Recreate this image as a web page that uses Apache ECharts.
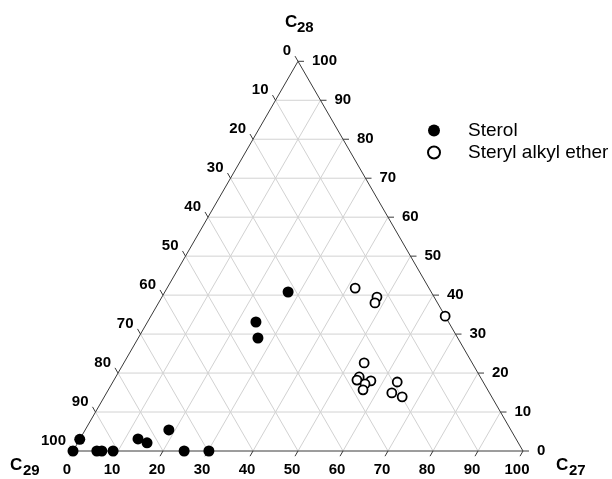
<!DOCTYPE html>
<html><head><meta charset="utf-8">
<script src="https://cdn.jsdelivr.net/npm/echarts@6/dist/echarts.min.js"></script>
<style>html,body{margin:0;padding:0;background:#fff}#c{width:612px;height:479px}</style>
</head><body><div id="c"></div>
<script>
// ---- data (ternary: C27, C28, C29 in %) ----
const tickValues = [0, 10, 20, 30, 40, 50, 60, 70, 80, 90, 100];
const gridLevels = [10, 20, 30, 40, 50, 60, 70, 80, 90];
const seriesNames = ['Sterol', 'Steryl alkyl ether'];

const sterolC27 = [27.4, 24.1, 26.6, 18.6, 12.9, 15.4, 0.0, 0.0, 5.3, 6.4, 8.9, 24.7, 30.2];
const sterolC28 = [40.8, 33.1, 29.0, 5.4, 3.1, 2.1, 3.0, 0.0, 0.0, 0.0, 0.0, 0.0, 0.0];
const sterolC29 = [31.8, 42.8, 44.4, 76.0, 84.0, 82.5, 97.0, 100.0, 94.7, 93.6, 91.1, 75.3, 69.8];

const etherC27 = [41.8, 47.8, 48.1, 65.4, 53.4, 54.1, 54.0, 57.2, 56.3, 56.6, 63.2, 63.4, 66.2];
const etherC28 = [41.8, 39.5, 38.0, 34.6, 22.6, 19.0, 18.2, 18.0, 17.2, 15.7, 17.7, 14.9, 13.9];
const etherC29 = [16.4, 12.7, 13.9, 0.0, 24.0, 26.9, 27.8, 24.8, 26.5, 27.7, 19.1, 21.7, 19.9];

// ---- ternary -> cartesian helper ----
const S3 = Math.sqrt(3) / 2;
function toXY(a, b, c) {
  const s = a + b + c;
  return [100 * (a + b / 2) / s, 100 * b * S3 / s];
}
function pts(A, B, C) { return A.map((a, i) => toXY(a, B[i], C[i])); }

// grid segments
const gridSegs = [];
gridLevels.forEach(v => {
  const h1 = toXY(0, v, 100 - v), h2 = toXY(100 - v, v, 0);      // C28 = v
  const a1 = toXY(v, 0, 100 - v), a2 = toXY(v, 100 - v, 0);      // C27 = v
  const c1 = toXY(0, 100 - v, v), c2 = toXY(100 - v, 0, v);      // C29 = v
  gridSegs.push([...h1, ...h2], [...a1, ...a2], [...c1, ...c2]);
});
const V1 = toXY(0, 0, 100), V2 = toXY(100, 0, 0), V3 = toXY(0, 100, 0);
const edgeSegs = [[...V1, ...V2], [...V2, ...V3], [...V3, ...V1]];

// ticks and labels: [x, y, kind, label] kind 0 bottom(C27), 1 right(C28), 2 left(C29)
const tickItems = [];
tickValues.forEach(v => {
  tickItems.push([...toXY(v, 0, 100 - v), 0, String(v)]);
  tickItems.push([...toXY(100 - v, v, 0), 1, String(v)]);
  tickItems.push([...toXY(0, 100 - v, v), 2, String(v)]);
});

const FONT = '"Liberation Sans", Arial, Helvetica, sans-serif';
const tickDir = [[-0.5, S3], [1, 0], [-0.5, -S3]];
const TL = 6;
const labelOff = [
  { dx: -6, dy: 19, align: 'center' },
  { dx: 14, dy: 0, align: 'left' },
  { dx: -7, dy: -10, align: 'right' }
];

function segRender(color) {
  return function (params, api) {
    const p1 = api.coord([api.value(0), api.value(1)]);
    const p2 = api.coord([api.value(2), api.value(3)]);
    return { type: 'line', shape: { x1: p1[0], y1: p1[1], x2: p2[0], y2: p2[1] },
      style: { stroke: color, lineWidth: 1 } };
  };
}

const chart = echarts.init(document.getElementById('c'), null, { renderer: 'canvas' });
chart.setOption({
  animation: false,
  backgroundColor: '#fff',
  grid: { left: 73, right: 89, top: 61.3, bottom: 28 },
  xAxis: { type: 'value', min: 0, max: 100, show: false },
  yAxis: { type: 'value', min: 0, max: 100 * S3, show: false },
  legend: {
    orient: 'vertical', left: 427, top: 121, padding: 0, itemGap: 3,
    itemWidth: 12, itemHeight: 12,
    data: [{ name: seriesNames[0], icon: 'circle' }, { name: seriesNames[1], icon: 'circle' }],
    textStyle: { fontFamily: FONT, fontSize: 19, lineHeight: 19, color: '#000', padding: [0, 0, 0, 23] }
  },
  graphic: [
    { type: 'text', left: 285, top: 14, style: { text: 'C', font: 'bold 17px ' + FONT, fill: '#000' } },
    { type: 'text', left: 297, top: 20, style: { text: '28', font: 'bold 15px ' + FONT, fill: '#000' } },
    { type: 'text', left: 10, top: 457, style: { text: 'C', font: 'bold 17px ' + FONT, fill: '#000' } },
    { type: 'text', left: 23, top: 463, style: { text: '29', font: 'bold 15px ' + FONT, fill: '#000' } },
    { type: 'text', left: 556, top: 457, style: { text: 'C', font: 'bold 17px ' + FONT, fill: '#000' } },
    { type: 'text', left: 569, top: 463, style: { text: '27', font: 'bold 15px ' + FONT, fill: '#000' } }
  ],
  series: [
    { type: 'custom', silent: true, clip: false, z: 1, data: gridSegs, renderItem: segRender('#d2d2d2') },
    { type: 'custom', silent: true, clip: false, z: 2, data: edgeSegs, renderItem: segRender('#3a3a3a') },
    {
      type: 'custom', silent: true, clip: false, z: 2, data: tickItems,
      renderItem: function (params, api) {
        const p = api.coord([api.value(0), api.value(1)]);
        const k = api.value(2);
        const d = tickDir[k], o = labelOff[k];
        const lbl = tickItems[params.dataIndex][3];
        return { type: 'group', children: [
          { type: 'line', shape: { x1: p[0], y1: p[1], x2: p[0] + d[0] * TL, y2: p[1] + d[1] * TL },
            style: { stroke: '#3a3a3a', lineWidth: 1 } },
          { type: 'text', x: p[0] + o.dx, y: p[1] + o.dy,
            style: { text: lbl, align: o.align, verticalAlign: 'middle', font: 'bold 15px ' + FONT, fill: '#000' } }
        ] };
      }
    },
    {
      name: seriesNames[0], type: 'scatter', z: 5, symbol: 'circle', symbolSize: 11,
      itemStyle: { color: '#000', opacity: 1 },
      data: pts(sterolC27, sterolC28, sterolC29)
    },
    {
      name: seriesNames[1], type: 'scatter', z: 5, symbol: 'circle', symbolSize: 9,
      itemStyle: { color: '#fff', borderColor: '#000', borderWidth: 1.8, opacity: 1 },
      data: pts(etherC27, etherC28, etherC29)
    }
  ]
});
</script></body></html>
